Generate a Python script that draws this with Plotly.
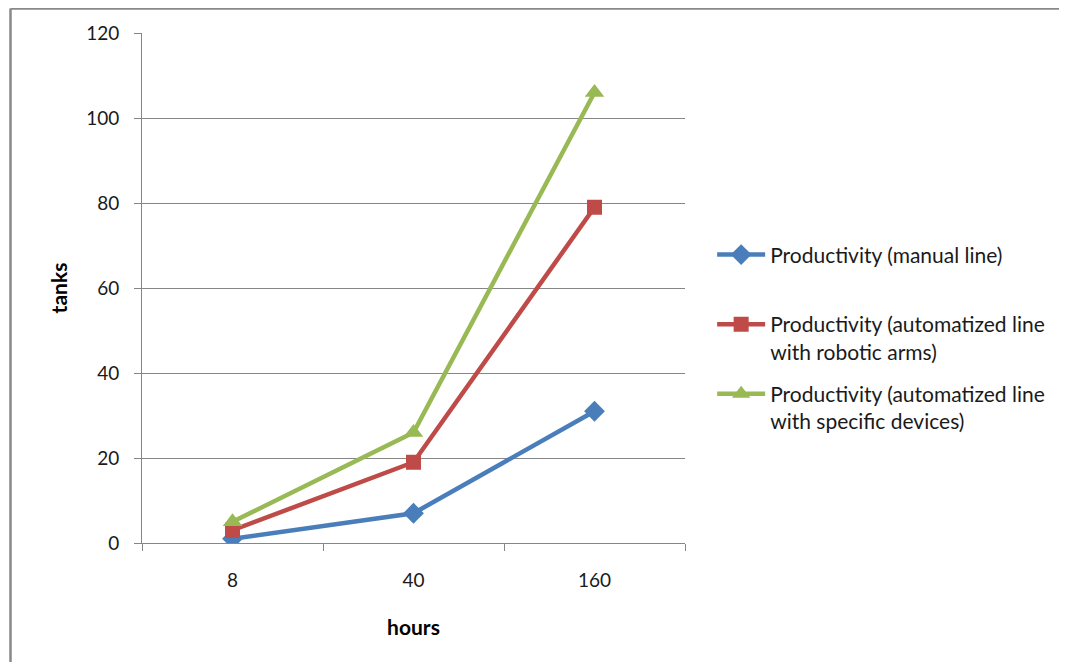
import plotly.graph_objects as go

categories = ["8", "40", "160"]
manual = [1, 7, 31]
robotic = [3, 19, 79]
specific = [5, 26, 106]
names = [
    "Productivity (manual line)<br> ",
    "Productivity (automatized line<br>with robotic arms)",
    "Productivity (automatized line<br>with specific devices)",
]
colors = ["#4A7EBB", "#BE4B48", "#98B954"]
symbols = ["diamond", "square", "triangle-up"]
sizes = [16, 15, 17]
y_ticks = [0, 20, 40, 60, 80, 100, 120]

FONT = "Lato"

# page body has an 8px margin: plot area should land at x 142-685, y 33-543 on screen
W, H = 1059, 654
L, T, PW, PH = 134, 25, 543, 510

fig = go.Figure()
for i, vals in enumerate([manual, robotic, specific]):
    fig.add_trace(go.Scatter(
        x=categories, y=vals, mode="lines+markers", name=names[i],
        legendgroup=f"g{i}",
        line=dict(color=colors[i], width=4.5),
        marker=dict(symbol=symbols[i], size=sizes[i], color=colors[i]),
    ))

bx = (2.5 - L) / PW
by = (T + PH - 0.5) / PH
bx_end = (W - L) / PW
by_end = (T + PH - H) / PH

fig.update_layout(
    width=W, height=H,
    margin=dict(l=L, r=W - L - PW, t=T, b=H - T - PH),
    paper_bgcolor="white", plot_bgcolor="white",
    font=dict(family=FONT, size=18, color="#1a1a1a"),
    showlegend=True,
    legend=dict(
        x=1.05, y=0.605, xanchor="left", yanchor="top",
        valign="top", traceorder="grouped", tracegroupgap=12,
        itemwidth=48,
        font=dict(family=FONT, size=21, color="#1a1a1a"),
        bgcolor="rgba(0,0,0,0)",
    ),
    xaxis=dict(
        type="category", range=[-0.5, 2.5],
        showgrid=False, showline=True, linecolor="#868686", linewidth=1,
        ticks="outside", tickson="boundaries", ticklen=7, tickcolor="#868686",
        ticklabelstandoff=20,
        tickfont=dict(size=19),
        title=dict(text="<b>hours</b>", standoff=30, font=dict(size=21, color="#000")),
        zeroline=False,
    ),
    yaxis=dict(
        range=[0, 120], tickvals=y_ticks,
        showgrid=True, gridcolor="#868686", gridwidth=1,
        showline=True, linecolor="#868686", linewidth=1,
        ticks="outside", ticklen=7, tickcolor="#868686",
        ticklabelstandoff=11,
        tickfont=dict(size=19),
        title=dict(text="<b>tanks</b>", standoff=12, font=dict(size=21, color="#000")),
        zeroline=False,
    ),
    shapes=[
        dict(type="line", xref="paper", yref="paper", x0=bx, x1=bx, y0=by, y1=by_end,
             line=dict(color="#888888", width=2.5)),
        dict(type="line", xref="paper", yref="paper", x0=bx, x1=bx_end, y0=by, y1=by,
             line=dict(color="#888888", width=2.5)),
    ],
)

fig.write_html(
    "out.html",
    post_script="document.documentElement.style.overflow='hidden';document.body.style.overflow='hidden';",
)
